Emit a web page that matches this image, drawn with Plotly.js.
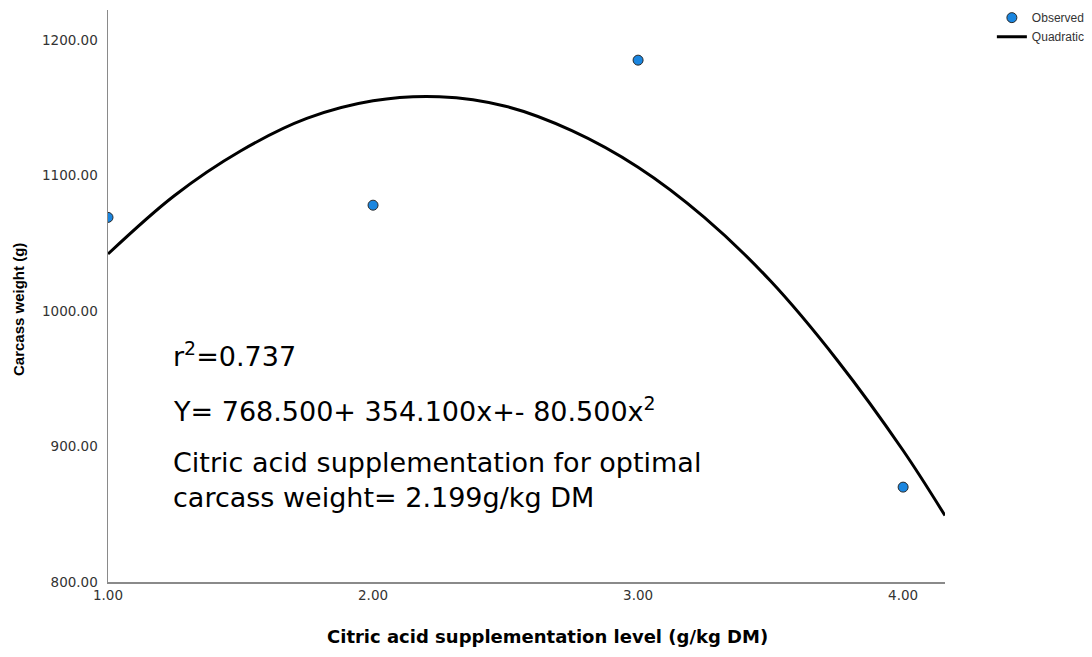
<!DOCTYPE html>
<html>
<head>
<meta charset="utf-8">
<script src="https://cdn.plot.ly/plotly-3.0.1.min.js"></script>
<style>html,body{margin:0;padding:0;background:#fff;}#chart{width:1092px;height:657px;}</style>
</head>
<body>
<div id="chart"></div>
<script>
// Observed data
const obsX = [1, 2, 3, 4];
const obsY = [1069, 1078, 1185, 870];
// Quadratic fit curve
const fitX = [1.0, 1.25, 1.5, 1.75, 2.0, 2.25, 2.5, 2.75, 3.0, 3.25, 3.5, 3.75, 4.0, 4.158];
const fitY = [1042, 1085, 1118, 1142, 1155, 1158, 1151, 1133, 1106, 1069, 1022, 964, 897, 849];
// Tick labels
const xTickVals = [1, 2, 3, 4];
const xTickText = ['1.00', '2.00', '3.00', '4.00'];
const yTickVals = [800, 900, 1000, 1100, 1200];
const yTickText = ['800.00', '900.00', '1000.00', '1100.00', '1200.00'];
// Axis titles
const xTitle = 'Citric acid supplementation level (g/kg DM)';
const yTitle = 'Carcass weight (g)';
// Annotation texts
const noteLines = [
  'r<sup>2</sup>=0.737',
  'Y= 768.500+ 354.100x+- 80.500x<sup>2</sup>',
  'Citric acid supplementation for optimal<br>carcass weight= 2.199g/kg DM'
];
const noteY = [0.397, 0.301, 0.179];

const font = '"Liberation Sans", Arial, sans-serif';
const wideFont = '"DejaVu Sans", sans-serif';

const traces = [
  {
    x: obsX, y: obsY, type: 'scatter', mode: 'markers', name: 'Observed',
    marker: {color: '#1a86e0', size: 10, line: {color: '#2a2a2a', width: 1}}
  },
  {
    x: fitX, y: fitY, type: 'scatter', mode: 'lines', name: 'Quadratic',
    line: {color: '#000000', width: 3, shape: 'spline'}
  }
];

const annotations = noteLines.map((t, i) => ({
  text: t, xref: 'paper', yref: 'paper', x: 0.0755, y: noteY[i],
  xanchor: 'left', yanchor: 'middle', align: 'left', showarrow: false,
  font: {family: wideFont, size: 27, color: '#000'}
}));
annotations.push({
  text: xTitle, xref: 'paper', yref: 'paper', x: 0.5245, y: -0.096,
  xanchor: 'center', yanchor: 'middle', showarrow: false,
  font: {family: wideFont, size: 18, color: '#000', weight: 'bold'}
});
annotations.push({
  text: yTitle, xref: 'paper', yref: 'paper', x: -0.1075, y: 0.4755,
  xanchor: 'center', yanchor: 'middle', textangle: -90, showarrow: false,
  font: {family: font, size: 15, color: '#000', weight: 'bold'}
});

const layout = {
  width: 1092, height: 657,
  margin: {l: 108, r: 147, t: 10, b: 75, autoexpand: false},
  paper_bgcolor: '#ffffff', plot_bgcolor: '#ffffff',
  font: {family: font, color: '#333'},
  showlegend: true,
  legend: {
    x: 1.056, y: 1.012, xanchor: 'left', yanchor: 'top',
    font: {family: font, size: 12, color: '#333'},
    itemwidth: 30, tracegroupgap: 0, bgcolor: 'rgba(0,0,0,0)'
  },
  xaxis: {
    range: [1, 4.158], showgrid: false, zeroline: false, automargin: false,
    showline: true, linecolor: '#8a8a8a', linewidth: 1.5,
    tickvals: xTickVals, ticktext: xTickText, ticks: '',
    tickfont: {family: wideFont, size: 13.5, color: '#333'}
  },
  yaxis: {
    range: [800, 1222], showgrid: false, zeroline: false, automargin: false,
    showline: true, linecolor: '#8a8a8a', linewidth: 1.5,
    tickvals: yTickVals, ticktext: yTickText, ticks: '',
    ticklabelstandoff: 6,
    tickfont: {family: wideFont, size: 13.5, color: '#333'}
  },
  annotations: annotations
};

Plotly.newPlot('chart', traces, layout, {displayModeBar: false, staticPlot: true});
</script>
</body>
</html>
